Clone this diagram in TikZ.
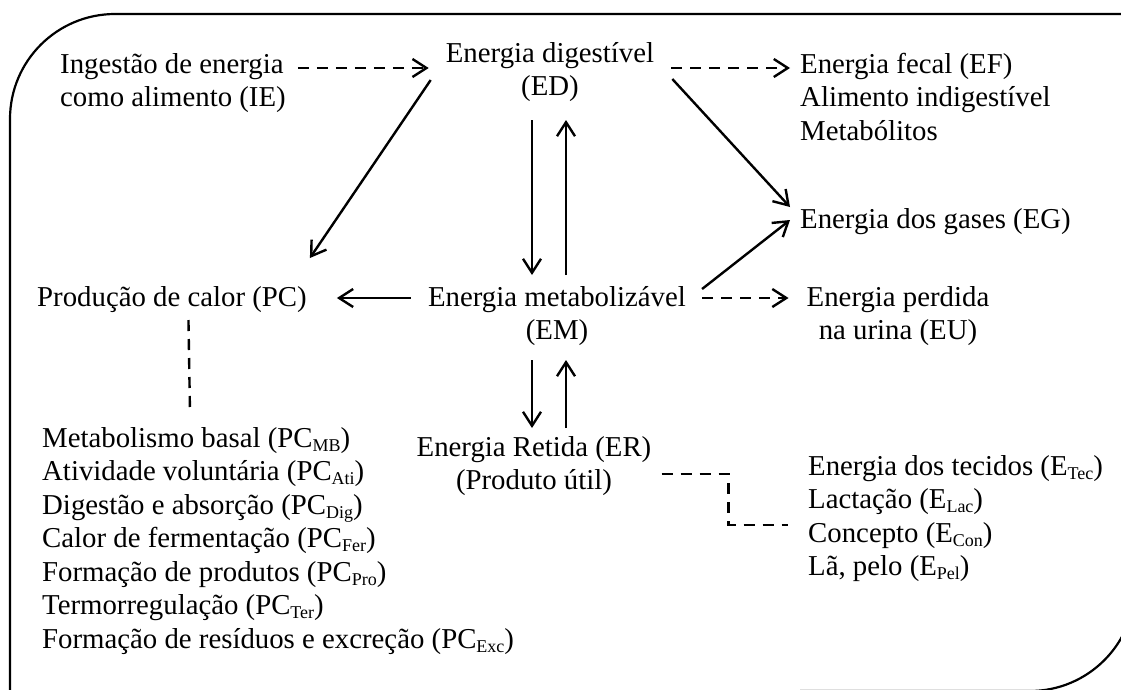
\documentclass[tikz,border=0pt]{standalone}
\usepackage{fontspec}
\setmainfont{Liberation Serif}
\usetikzlibrary{arrows.meta,calc}
\newcommand{\sbs}[1]{\raisebox{-4pt}{\fontsize{18}{18}\selectfont #1}}
\begin{document}
\begin{tikzpicture}[x=1pt,y=-1pt,
  txt/.style={inner sep=0pt, font=\fontsize{28.8}{33.5}\selectfont},
  conn/.style={line width=2.4pt},
  sar/.style={conn,-{Straight Barb[length=14pt,width=18pt]}},
  dar/.style={sar, dash pattern=on 11pt off 8pt},
  dln/.style={conn, dash pattern=on 11pt off 8pt}]
\useasboundingbox (0,0) rectangle (1121,689);
\begin{scope}
\clip (0,0) rectangle (1121,689);
\draw[line width=2.2pt, rounded corners=105pt] (10,760) -- (10,14) -- (1200,14);
\draw[line width=2.2pt, rounded corners=105pt] (1135,400) -- (1135,691) -- (800,691);
\end{scope}
\node[txt, anchor=base west] (ie) at (60,73) {\begin{tabular}[t]{@{}l@{}}Ingestão de energia\\como alimento (IE)\end{tabular}};
\node[txt, anchor=base] (ed) at (550,62) {\begin{tabular}[t]{@{}c@{}}Energia digestível\\(ED)\end{tabular}};
\node[txt, anchor=base west] (ef) at (800,73) {\begin{tabular}[t]{@{}l@{}}Energia fecal (EF)\\Alimento indigestível\\Metabólitos\end{tabular}};
\node[txt, anchor=base west] (eg) at (800,228) {Energia dos gases (EG)};
\node[txt, anchor=base west] (pc) at (37,306) {Produção de calor (PC)};
\node[txt, anchor=base] (em) at (557,306) {\begin{tabular}[t]{@{}c@{}}Energia metabolizável\\(EM)\end{tabular}};
\node[txt, anchor=base] (eu) at (898,306) {\begin{tabular}[t]{@{}c@{}}Energia perdida\\na urina (EU)\end{tabular}};
\node[txt, anchor=base] (er) at (534,456) {\begin{tabular}[t]{@{}c@{}}Energia Retida (ER)\\(Produto útil)\end{tabular}};
\node[txt, anchor=base west] (pcl) at (42,447) {\begin{tabular}[t]{@{}l@{}}Metabolismo basal (PC\sbs{MB})\\Atividade voluntária (PC\sbs{Ati})\\Digestão e absorção (PC\sbs{Dig})\\Calor de fermentação (PC\sbs{Fer})\\Formação de produtos (PC\sbs{Pro})\\Termorregulação (PC\sbs{Ter})\\Formação de resíduos e excreção (PC\sbs{Exc})\end{tabular}};
\node[txt, anchor=base west] (el) at (808,475) {\begin{tabular}[t]{@{}l@{}}Energia dos tecidos (E\sbs{Tec})\\Lactação (E\sbs{Lac})\\Concepto (E\sbs{Con})\\Lã, pelo (E\sbs{Pel})\end{tabular}};
\draw[dar] ([shift={(12,-5)}]ie.base east) -- ([shift={(-17,6)}]ed.base west);
\draw[dar] ([shift={(17,6)}]ed.base east) -- ([shift={(-10,-5)}]ef.base west);
\draw[sar] ([shift={(18,17)}]ed.base east) -- ([shift={(-10,-21)}]eg.base west);
\draw[sar] ([shift={(-15,18)}]ed.base west) -- ([shift={(3,-48)}]pc.base east);
\draw[sar] ([shift={(-18,58)}]ed.base) -- ([shift={(-25,-31)}]em.base);
\draw[sar] ([shift={(9,-31)}]em.base) -- ([shift={(16,58)}]ed.base);
\draw[sar] ([shift={(-17,-8)}]em.base west) -- ([shift={(30,-8)}]pc.base east);
\draw[sar] ([shift={(16,-17)}]em.base east) -- ([shift={(-10,-8)}]eg.base west);
\draw[dar] ([shift={(16,-8)}]em.base east) -- ([shift={(-18,-8)}]eu.base west);
\draw[dln] ([shift={(16.5,14)}]pc.base) -- ([shift={(148,-34)}]pcl.base west);
\draw[sar] ([shift={(-25,54)}]em.base) -- ([shift={(-2,-28)}]er.base);
\draw[sar] ([shift={(32,-28)}]er.base) -- ([shift={(9,54)}]em.base);
\draw[dln] ([shift={(10,18)}]er.base east) -- ++(67,0) |- ([shift={(-20,50)}]el.base west);
\end{tikzpicture}
\end{document}
